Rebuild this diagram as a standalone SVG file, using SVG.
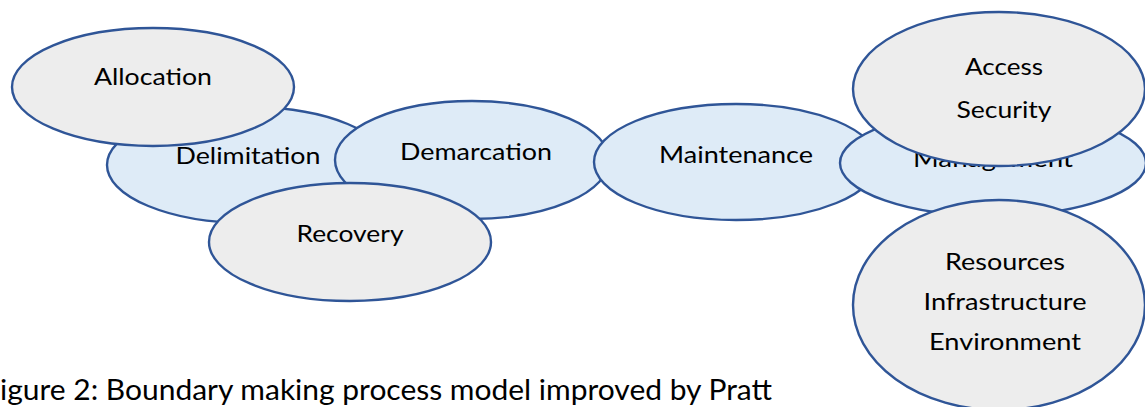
<svg xmlns="http://www.w3.org/2000/svg" width="1145" height="407" viewBox="0 0 1145 407">
<style>
.e{stroke:#2F5597;stroke-width:2.4}
.b{fill:#DEEBF7}
.g{fill:#EDEDED}
text{font-family:Lato,"Open Sans","Liberation Sans",sans-serif;font-size:24px;fill:#000;text-anchor:middle;dominant-baseline:central}
.cap{font-size:28px;text-anchor:start}
</style>
<rect width="1145" height="407" fill="#fff"/>
<g id="connectors"/>
<g id="delimitation"><ellipse class="e b" cx="248" cy="165" rx="141" ry="58"/><text x="248" y="154" textLength="145" lengthAdjust="spacingAndGlyphs">Delimitation</text></g>
<g id="allocation"><ellipse class="e g" cx="153" cy="87" rx="141" ry="59"/><text x="153" y="75" textLength="118" lengthAdjust="spacingAndGlyphs">Allocation</text></g>
<g id="demarcation"><ellipse class="e b" cx="472" cy="160" rx="137" ry="59"/><text x="476" y="150" textLength="152" lengthAdjust="spacingAndGlyphs">Demarcation</text></g>
<g id="recovery"><ellipse class="e g" cx="350" cy="242" rx="141" ry="59"/><text x="350" y="232" textLength="107" lengthAdjust="spacingAndGlyphs">Recovery</text></g>
<g id="maintenance"><ellipse class="e b" cx="736" cy="162" rx="142" ry="58"/><text x="736" y="153" textLength="154" lengthAdjust="spacingAndGlyphs">Maintenance</text></g>
<g id="management"><ellipse class="e b" cx="993" cy="163" rx="153" ry="53"/><text x="993" y="157" textLength="160" lengthAdjust="spacingAndGlyphs">Management</text></g>
<g id="access-security"><ellipse class="e g" cx="999" cy="89" rx="146" ry="77"/><text x="1004" y="65" textLength="78" lengthAdjust="spacingAndGlyphs">Access</text><text x="1004" y="108" textLength="95" lengthAdjust="spacingAndGlyphs">Security</text></g>
<g id="resources"><ellipse class="e g" cx="999" cy="305" rx="146" ry="105"/><text x="1005" y="260" textLength="120" lengthAdjust="spacingAndGlyphs">Resources</text><text x="1005" y="300" textLength="163" lengthAdjust="spacingAndGlyphs">Infrastructure</text><text x="1005" y="340" textLength="152" lengthAdjust="spacingAndGlyphs">Environment</text></g>
<text class="cap" x="0" y="389" textLength="772" lengthAdjust="spacingAndGlyphs">igure 2: Boundary making process model improved by Pratt</text>
</svg>
